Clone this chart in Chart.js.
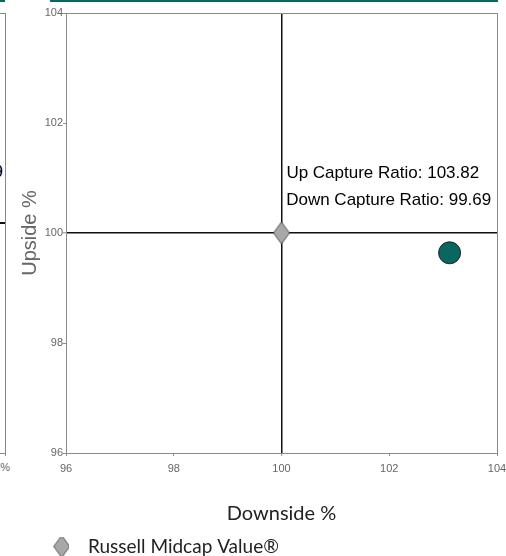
<!DOCTYPE html>
<html>
<head>
<meta charset="utf-8">
<script src="https://cdn.jsdelivr.net/npm/chart.js@4/dist/chart.umd.min.js"></script>
<style>
    html, body { margin: 0; padding: 0; background: #fff; }
    body { width: 506px; height: 556px; position: relative; overflow: hidden; font-family: "Liberation Sans", Arial, sans-serif; }
    #chart { position: absolute; left: 0; top: 0; }
    .rule { position: absolute; top: 0; height: 2px; background: #0b6660; }
    .prev-box { position: absolute; left: -10px; top: 13px; width: 15px; height: 439px; border: 1px solid #888; border-left: none; }
    .prev-tick { position: absolute; left: 5px; top: 453px; width: 1px; height: 3px; background: #888; }
    .prev-cross { position: absolute; left: 0; top: 222px; width: 5px; height: 1.5px; background: #111; }
    .prev-text { position: absolute; white-space: nowrap; }
</style>
</head>
<body>
<!-- edge of the neighbouring panel -->
<div class="rule" style="left:0;width:5px"></div>
<div class="rule" style="left:50px;width:448px"></div>
<div class="prev-box"></div>
<div class="prev-tick"></div>
<div class="prev-cross"></div>
<div class="prev-text" style="right:503px;top:162px;font-size:17px;color:#000">Down Capture Ratio: 99.69</div>
<div class="prev-text" style="right:496px;top:461px;font-size:11px;color:#666">104%</div>

<canvas id="chart" width="509" height="556"></canvas>

<script>
const benchmarkName = 'Russell Midcap Value®'
const fundName = 'Fund'

// downside (x) / upside (y)
const benchmarkDown = [100]
const benchmarkUp = [100]
const fundDown = [103.12]
const fundUp = [99.64]

const upCapture = 103.82
const downCapture = 99.69

const xTicks = [96, 98, 100, 102, 104]
const yTicks = [96, 98, 100, 102, 104]

const teal = '#0a6661'
const boxGray = '#8a8a8a'

const toPoints = (xs, ys) => xs.map((x, i) => ({x, y: ys[i]}))

// tall grey diamond, drawn into a small canvas so it can be used as a point style
const makeDiamond = (w, h, canvasW, centerX) => {
    const c = document.createElement('canvas')
    c.width = canvasW
    c.height = h + 2
    const g = c.getContext('2d')
    const cy = (h + 2) / 2
    g.beginPath()
    g.moveTo(centerX, 1)
    g.lineTo(centerX + w / 2, cy)
    g.lineTo(centerX, h + 1)
    g.lineTo(centerX - w / 2, cy)
    g.closePath()
    g.fillStyle = '#a8a8a8'
    g.fill()
    g.lineWidth = 1
    g.strokeStyle = '#555'
    g.stroke()
    return c
}
const pointDiamond = makeDiamond(16, 22, 18, 9)
// legend box is wide, the diamond sits in its right part
const legendDiamond = makeDiamond(16, 22, 60, 52.5)

const lineColor = ctx => {
    const v = ctx.tick && ctx.tick.value
    if (v === 100) return '#111'
    if (v === 104) return boxGray
    return 'rgba(0,0,0,0)'
}
const lineWidth = ctx => (ctx.tick && ctx.tick.value === 100) ? 1.5 : 1

const captureLabels = {
    id: 'captureLabels',
    afterDatasetsDraw(chart) {
        const {ctx, scales: {x, y}} = chart
        ctx.save()
        ctx.font = '17px "Liberation Sans", Arial, sans-serif'
        ctx.fillStyle = '#000'
        ctx.textAlign = 'center'
        ctx.textBaseline = 'middle'
        ctx.fillText(`Up Capture Ratio: ${upCapture.toFixed(2)}`, x.getPixelForValue(101.88), y.getPixelForValue(101.09))
        ctx.fillText(`Down Capture Ratio: ${downCapture.toFixed(2)}`, x.getPixelForValue(101.99), y.getPixelForValue(100.6))
        ctx.restore()
    }
}

new Chart(document.getElementById('chart'), {
    type: 'scatter',
    data: {
        datasets: [
            {
                label: benchmarkName,
                data: toPoints(benchmarkDown, benchmarkUp),
                pointStyle: pointDiamond,
                pointRadius: 10,
                pointHoverRadius: 10
            },
            {
                label: fundName,
                data: toPoints(fundDown, fundUp),
                pointStyle: 'circle',
                pointRadius: 11,
                pointHoverRadius: 11,
                backgroundColor: teal,
                borderColor: '#222',
                borderWidth: 1
            }
        ]
    },
    options: {
        responsive: false,
        animation: false,
        devicePixelRatio: 1,
        layout: {padding: {top: 13, right: 6, bottom: 0, left: 0}},
        scales: {
            x: {
                type: 'linear',
                min: 96,
                max: 104,
                afterBuildTicks: s => { s.ticks = xTicks.map(value => ({value})) },
                afterFit: s => {
                    s.height = 84
                    s.paddingLeft = 0
                    s.paddingRight = 0
                },
                ticks: {font: {size: 11, family: '"Liberation Sans", Arial'}, color: '#666', padding: 6},
                grid: {color: lineColor, lineWidth, tickColor: boxGray, tickLength: 3, tickWidth: 1},
                border: {color: boxGray, width: 1},
                title: {
                    display: true,
                    text: 'Downside %',
                    color: '#222',
                    font: {size: 20, family: 'Lato'},
                    padding: {top: 0, bottom: 11}
                }
            },
            y: {
                type: 'linear',
                min: 96,
                max: 104,
                afterBuildTicks: s => { s.ticks = yTicks.map(value => ({value})) },
                afterFit: s => { s.width = 66 },
                ticks: {font: {size: 11, family: '"Liberation Sans", Arial'}, color: '#666', padding: 0},
                grid: {color: lineColor, lineWidth, tickColor: boxGray, tickLength: 3, tickWidth: 1},
                border: {color: boxGray, width: 1},
                title: {
                    display: true,
                    text: 'Upside %',
                    color: '#666',
                    font: {size: 20, family: '"Liberation Sans", Arial'},
                    padding: {top: 18, bottom: 0}
                }
            }
        },
        plugins: {
            tooltip: {enabled: false},
            legend: {
                position: 'bottom',
                align: 'start',
                maxHeight: 19,
                labels: {
                    usePointStyle: true,
                    pointStyle: legendDiamond,
                    pointStyleWidth: 78.5,
                    padding: 0,
                    color: '#222',
                    font: {size: 19, family: 'Lato'},
                    filter: item => item.datasetIndex === 0
                }
            }
        }
    },
    plugins: [captureLabels]
})
</script>
</body>
</html>
